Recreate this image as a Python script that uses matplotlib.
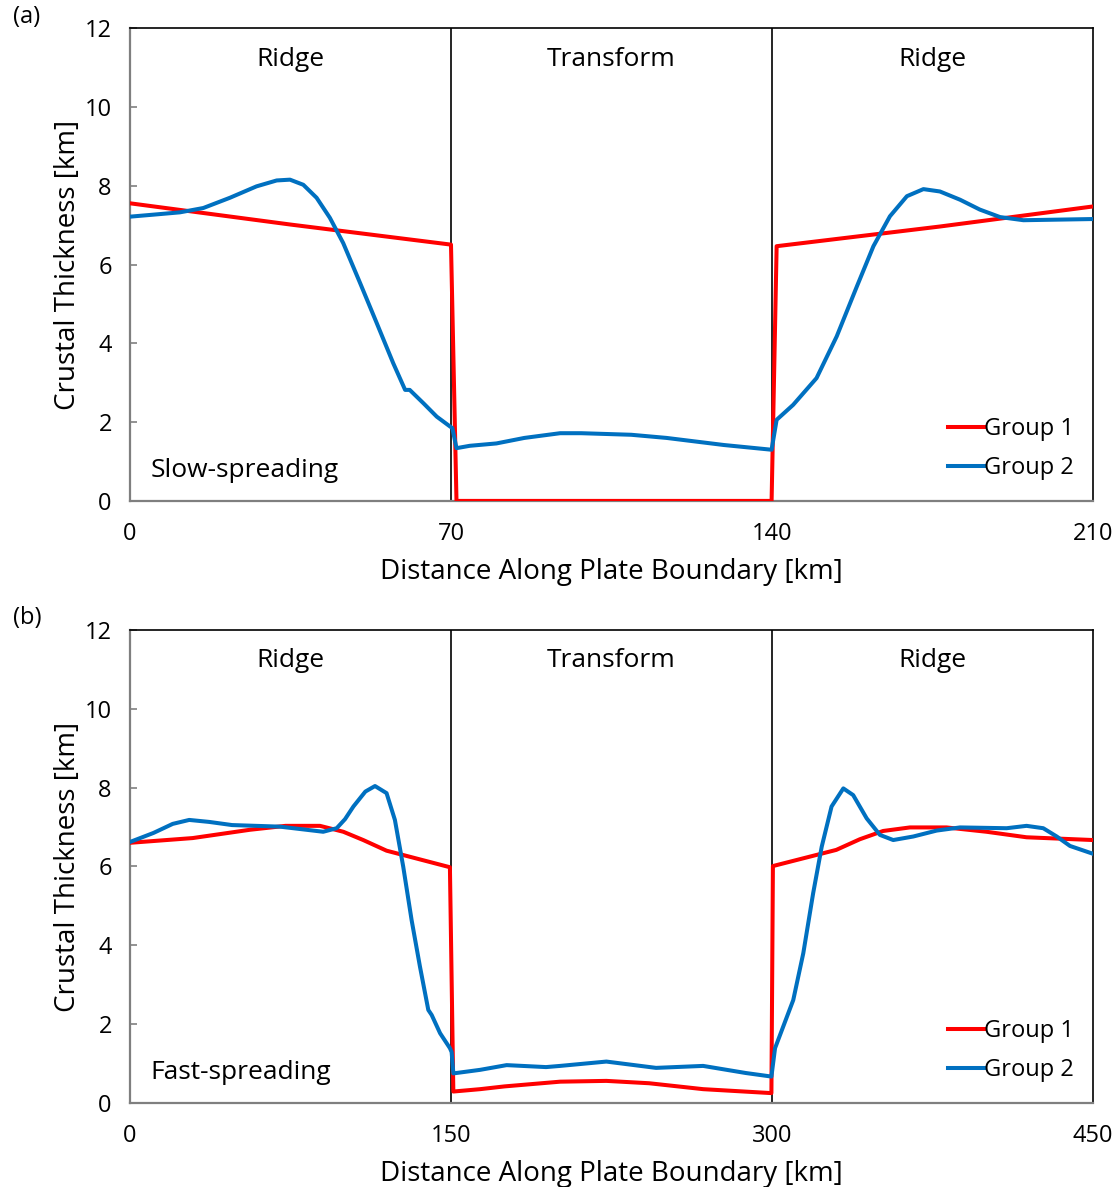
import matplotlib
matplotlib.use("Agg")
import matplotlib.pyplot as plt

plt.rcParams['font.family'] = ['Open Sans', 'DejaVu Sans']

# ---------------- Panel (a): slow-spreading ----------------
a_red_x = [0, 35, 70, 71.2, 139.9, 141, 176.6, 210]
a_red_y = [7.56, 7.02, 6.51, 0.0, 0.0, 6.47, 6.97, 7.48]

a_blue_x = [0, 5, 10.9, 16, 21.8, 27.6, 32, 34.9, 37.8, 40.7, 43.6, 46.5, 50.2, 53.8,
            57.4, 60, 61, 64, 66.9, 69.8, 70.3, 71.2, 74.1, 79.9, 86, 93.8, 98.4,
            109.3, 117, 129.5, 139.9, 141, 144.6, 149.7, 154.1, 158.5, 162.1, 165.7,
            169.4, 173, 176.6, 181, 185.3, 189.7, 194.8, 210]
a_blue_y = [7.22, 7.27, 7.33, 7.44, 7.7, 7.99, 8.14, 8.16, 8.03, 7.7, 7.19, 6.55, 5.53, 4.52,
            3.5, 2.82, 2.82, 2.48, 2.14, 1.89, 1.85, 1.34, 1.4, 1.46, 1.6, 1.72, 1.72,
            1.68, 1.6, 1.42, 1.3, 2.06, 2.44, 3.12, 4.18, 5.45, 6.47, 7.23,
            7.74, 7.92, 7.86, 7.65, 7.4, 7.21, 7.13, 7.16]

# ---------------- Panel (b): fast-spreading ----------------
b_red_x = [0, 29.3, 56, 72.7, 88.8, 99.7, 109, 119.9, 149.5, 151.1, 163.6, 175, 201,
           222.6, 242.6, 267.8, 299.7, 300.4, 330, 341, 351.9, 364.4, 381.5, 400.2,
           418.9, 450]
b_red_y = [6.6, 6.72, 6.93, 7.03, 7.03, 6.88, 6.67, 6.4, 5.98, 0.29, 0.35, 0.42, 0.54,
           0.56, 0.5, 0.35, 0.25, 6.01, 6.42, 6.69, 6.9, 6.99, 6.99, 6.88,
           6.74, 6.67]

b_blue_x = [0, 11, 20, 27.7, 37, 47.7, 70.1, 90.3, 96.6, 100.5, 104.4, 110, 114.5, 119.9,
            123.8, 127.7, 131.6, 135.5, 139.4, 141, 144.9, 149.5, 150.3, 151.1, 163.6,
            176, 194.4, 201, 222.6, 245.8, 267.8, 287.7, 299.7, 301.4, 309.9, 314.6,
            319.2, 323.2, 327.8, 333.3, 337.9, 344.2, 350.4, 356.6, 366, 376.9, 387.8,
            409.6, 418.9, 426.7, 433, 439.2, 450]
b_blue_y = [6.62, 6.85, 7.08, 7.18, 7.13, 7.05, 7.01, 6.88, 6.97, 7.2, 7.52, 7.9, 8.04, 7.86,
            7.18, 5.99, 4.64, 3.46, 2.36, 2.23, 1.77, 1.39, 1.29, 0.75, 0.84,
            0.96, 0.91, 0.94, 1.05, 0.89, 0.94, 0.76, 0.67, 1.39, 2.61, 3.8,
            5.32, 6.5, 7.52, 7.98, 7.81, 7.22, 6.8, 6.67, 6.76, 6.91, 6.99,
            6.97, 7.03, 6.97, 6.76, 6.52, 6.32]

series_labels = ["Group 1", "Group 2"]
region_labels = ["Ridge", "Transform", "Ridge"]
y_ticks = [0, 2, 4, 6, 8, 10, 12]

panels = [
    dict(tag="(a)", name="Slow-spreading", xmax=210, xticks=[0, 70, 140, 210],
         red=(a_red_x, a_red_y), blue=(a_blue_x, a_blue_y), rect=[0.116, 0.578, 0.860, 0.398]),
    dict(tag="(b)", name="Fast-spreading", xmax=450, xticks=[0, 150, 300, 450],
         red=(b_red_x, b_red_y), blue=(b_blue_x, b_blue_y), rect=[0.116, 0.0708, 0.860, 0.3985]),
]

RED = "#FF0000"
BLUE = "#0070C0"
GRAY = "#7F7F7F"

fig = plt.figure(figsize=(11.2, 11.87), dpi=100)

for p in panels:
    ax = fig.add_axes(p["rect"])
    xmax = p["xmax"]
    b1, b2 = xmax / 3, 2 * xmax / 3
    ax.axvline(b1, color="black", lw=1.2, zorder=1)
    ax.axvline(b2, color="black", lw=1.2, zorder=1)
    ax.plot(*p["red"], color=RED, lw=2.9, label=series_labels[0], zorder=3,
            solid_joinstyle="round")
    ax.plot(*p["blue"], color=BLUE, lw=2.9, label=series_labels[1], zorder=4,
            solid_joinstyle="round")
    ax.set_xlim(0, xmax)
    ax.set_ylim(0, 12)
    ax.set_xticks(p["xticks"])
    ax.set_yticks(y_ticks)
    ax.tick_params(axis="x", length=0, pad=15, labelsize=17)
    ax.tick_params(axis="y", direction="in", length=5, width=1.2, color=GRAY, pad=13, labelsize=17)
    for s in ["left", "bottom"]:
        ax.spines[s].set_color(GRAY)
        ax.spines[s].set_linewidth(1.6)
    for s in ["top", "right"]:
        ax.spines[s].set_color("black")
        ax.spines[s].set_linewidth(1.2)
    ax.set_xlabel("Distance Along Plate Boundary [km]", fontsize=20, labelpad=9)
    ax.set_ylabel("Crustal Thickness [km]", fontsize=20, labelpad=2)
    for i, lab in enumerate(region_labels):
        ax.text((i + 0.5) * xmax / 3, 11.22, lab, ha="center", va="center", fontsize=19)
    ax.text(0.021, 0.065, p["name"], transform=ax.transAxes, ha="left", va="center", fontsize=19)
    ax.legend(loc="lower right", bbox_to_anchor=(1.002, -0.001), frameon=False, fontsize=17,
              handlelength=1.5, handletextpad=0.0, labelspacing=0.65)
    fig.text(0.012, p["rect"][1] + p["rect"][3] + 0.01, p["tag"], fontsize=17, ha="left", va="center")

fig.savefig("out.png", dpi=100)
